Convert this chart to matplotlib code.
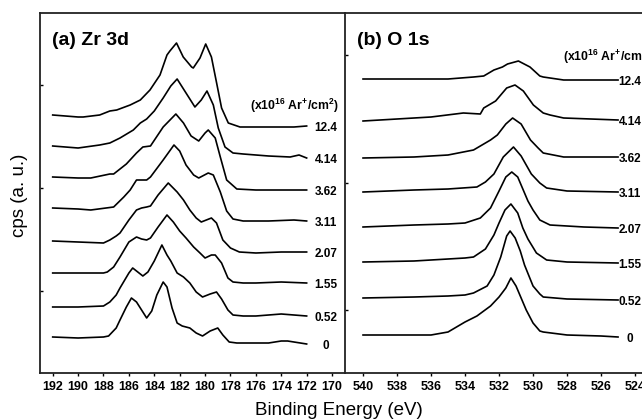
import matplotlib
matplotlib.use("Agg")
import matplotlib.pyplot as plt

# Ar+ ion dose for each spectrum, bottom to top (x10^16 Ar+/cm2)
doses = ["0", "0.52", "1.55", "2.07", "3.11", "3.62", "4.14", "12.4"]

# Zr 3d spectra: (binding energy in eV, cps in a.u. incl. stacking offset)
zr_0 = [(192, 36), (190, 35), (188, 36), (187.6, 37), (187, 45), (186.7, 53), (186.2, 66),
        (185.8, 75), (185.4, 71), (185.1, 65), (184.6, 55), (184.2, 62), (183.8, 78), (183.3, 91),
        (183.0, 86), (182.6, 65), (182.2, 50), (181.8, 47), (181.2, 45), (180.7, 40), (180.2, 37),
        (179.6, 42), (179.0, 45), (178.6, 38), (178.1, 31), (177.5, 30), (176, 30), (175, 30),
        (174, 32), (173.5, 32), (173, 31), (172, 29)]
zr_052 = [(192, 66), (190, 66), (188, 67), (187.5, 71), (187, 78), (186.7, 85), (186.0, 100),
          (185.7, 105), (185.3, 101), (184.9, 97), (184.5, 101), (184.0, 112), (183.4, 128),
          (183.0, 118), (182.7, 112), (182.2, 100), (181.7, 96), (181.2, 90), (180.7, 81),
          (180.2, 76), (179.6, 79), (179.1, 81), (178.7, 74), (178.2, 63), (177.8, 58), (177, 57),
          (176, 57), (174, 59), (173, 58), (172, 57)]
zr_155 = [(192, 100), (190, 100), (188, 100), (187.7, 101), (187.2, 106), (186.7, 116), (186.0, 131),
          (185.4, 136), (185.0, 134), (184.6, 133), (184.3, 135), (183.7, 146), (183.0, 158),
          (182.5, 151), (182.0, 142), (181.5, 135), (180.9, 126), (180.4, 120), (180.0, 115),
          (179.5, 118), (179.2, 118), (178.7, 110), (178.2, 95), (177.8, 91), (177, 90), (176, 90),
          (174, 91), (172, 90)]
zr_207 = [(192, 132), (190, 131), (188, 130), (187.5, 133), (187.0, 137), (186.7, 140), (186.0, 153),
          (185.4, 163), (185.0, 165), (184.6, 166), (184.3, 167), (183.7, 178), (182.9, 190),
          (182.2, 181), (181.7, 173), (181.2, 163), (180.7, 155), (180.3, 151), (179.9, 153),
          (179.5, 155), (179.1, 150), (178.6, 133), (178.0, 125), (177.3, 121), (176, 120),
          (174, 121), (172, 121)]
zr_311 = [(192, 165), (190, 164), (189, 163), (187.2, 166), (186.4, 176), (185.9, 183), (185.4, 193),
          (184.6, 193), (184.3, 196), (183.3, 213), (182.45, 228), (182.0, 222), (181.5, 208),
          (180.9, 198), (180.5, 195), (179.75, 200), (179.35, 198), (178.8, 181), (178.3, 162),
          (177.8, 154), (177, 152), (175, 152), (173, 153), (172, 152)]
zr_362 = [(192, 196), (190, 195), (189, 195), (187.5, 199), (187.2, 199), (186.2, 209), (185.4, 220),
          (184.9, 226), (184.3, 227), (183.3, 246), (182.3, 259), (181.7, 250), (181.1, 237),
          (180.5, 232), (180.0, 240), (179.75, 243), (179.2, 235), (178.8, 216), (178.3, 193),
          (177.5, 184), (176, 183), (174, 183), (172, 183)]
zr_414 = [(192, 227), (190, 225), (188.3, 228), (187.5, 230), (186.7, 235), (185.65, 243),
          (185.1, 250), (184.6, 254), (184.0, 262), (183.3, 275), (182.7, 287), (182.2, 294),
          (181.45, 279), (180.8, 266), (180.3, 273), (179.85, 282), (179.35, 268), (178.96, 245),
          (178.43, 226), (177.8, 220), (177, 219), (175, 217), (173.3, 216), (172.6, 218), (172, 215)]
zr_124 = [(192, 258), (190, 256), (189.6, 256), (188.3, 258), (187.5, 262), (186.96, 263),
          (185.9, 268), (185.1, 273), (184.34, 283), (183.55, 298), (183.0, 318), (182.77, 322),
          (182.25, 330), (181.72, 316), (181.06, 306), (180.93, 305), (180.4, 315), (179.95, 329),
          (179.5, 316), (179.09, 290), (178.7, 265), (178.17, 250), (177.25, 246), (175, 246),
          (173, 246), (172, 247)]

# O 1s spectra: (binding energy in eV, cps in a.u. incl. stacking offset)
o_0 = [(540, 38), (537, 38), (536, 38), (535, 41), (534.3, 48), (534, 51), (533.3, 57), (532.5, 67),
       (532.0, 76), (531.6, 85), (531.3, 95), (531.0, 87), (530.7, 75), (530.4, 63), (530.0, 50),
       (529.6, 42), (529.4, 41), (528, 38), (526, 37), (525, 36)]
o_052 = [(540, 75), (537, 76), (535, 77), (534, 78), (533.5, 80), (532.7, 87), (532.3, 98),
         (531.9, 116), (531.55, 137), (531.35, 142), (531.05, 135), (530.75, 122), (530.5, 108),
         (530.0, 87), (529.6, 79), (529.4, 76), (528, 74), (525, 73)]
o_155 = [(540, 111), (537, 112), (535, 114), (534, 115), (533.5, 116), (532.8, 124), (532.3, 138),
         (532.0, 150), (531.65, 163), (531.3, 169), (530.9, 160), (530.6, 145), (530.3, 134),
         (529.8, 120), (529.2, 113), (528, 111), (525, 110)]
o_207 = [(540, 146), (537, 148), (535, 149), (534, 150), (533.1, 155), (532.5, 165), (532.0, 182),
         (531.6, 196), (531.25, 201), (530.9, 196), (530.6, 184), (530.3, 172), (530.0, 163),
         (529.6, 153), (529.0, 148), (527, 146), (525, 145)]
o_311 = [(540, 181), (537, 183), (535, 184), (533.3, 186), (532.8, 191), (532.3, 199), (531.75, 216),
         (531.15, 226), (530.7, 217), (530.1, 199), (529.6, 190), (529.2, 185), (528, 182), (525, 181)]
o_362 = [(540, 215), (537, 216), (535, 218), (533.5, 223), (532.5, 233), (532.1, 238), (531.6, 249),
         (531.2, 255), (530.7, 249), (530.15, 233), (529.7, 225), (529.4, 220), (528.2, 216), (525, 216)]
o_414 = [(540, 252), (537, 255), (536, 256), (534.1, 260), (533.1, 259), (532.9, 265), (532.2, 272),
         (531.55, 285), (531.06, 288), (530.57, 282), (529.98, 268), (529.4, 260), (529.0, 258),
         (528.2, 255), (525, 253)]
o_124 = [(540, 294), (537, 294), (535, 294), (533.5, 296), (532.9, 297), (532.3, 303), (531.8, 306),
         (531.5, 309), (530.86, 312), (530.18, 306), (529.6, 297), (529.4, 296), (528.2, 293), (525, 293)]

zr_spectra = [zr_0, zr_052, zr_155, zr_207, zr_311, zr_362, zr_414, zr_124]
o_spectra = [o_0, o_052, o_155, o_207, o_311, o_362, o_414, o_124]

zr_xticks = list(range(192, 169, -2))
o_xticks = list(range(540, 523, -2))
dose_header = r"(x10$^{\mathbf{16}}$ Ar$^{\mathbf{+}}$/cm$^{\mathbf{2}}$)"

plt.rcParams["font.family"] = ["Liberation Sans", "DejaVu Sans"]
plt.rcParams["mathtext.fontset"] = "custom"
plt.rcParams["mathtext.rm"] = "Liberation Sans"
plt.rcParams["mathtext.bf"] = "Liberation Sans:bold"

W, H = 642, 419
fig = plt.figure(figsize=(W / 100, H / 100), dpi=100)
ax_zr = fig.add_axes([40 / W, 1 - 373 / H, 305 / W, 360 / H])
ax_o = fig.add_axes([345 / W, 1 - 373 / H, 297 / W, 360 / H])


def draw_panel(ax, spectra, xlim, xticks, yticks, title, label_x, header_x, header_y):
    for spec, dose in zip(spectra, doses):
        energy = [p[0] for p in spec]
        counts = [p[1] for p in spec]
        ax.plot(energy, counts, color="black", lw=1.2)
        ax.text(label_x, counts[-1] - 2, dose, ha="center", va="center",
                fontsize=8.5, fontweight="bold")

    ax.text(header_x, header_y, dose_header, ha="left", va="center",
            fontsize=8.8, fontweight="bold")
    ax.text(0.04, 0.925, title, transform=ax.transAxes, ha="left", va="center",
            fontsize=14, fontweight="bold")

    ax.set_xlim(*xlim)
    ax.set_ylim(0, 360)
    ax.set_xticks(xticks)
    ax.set_xticklabels([str(t) for t in xticks], fontweight="bold", fontsize=9)
    ax.set_yticks(yticks)
    ax.set_yticklabels([])
    ax.tick_params(axis="x", direction="out", length=2.5, width=1, pad=3)
    ax.tick_params(axis="y", direction="in", length=2.5, width=1)
    for spine in ax.spines.values():
        spine.set_linewidth(1.3)
        spine.set_color("#222222")
    ax.spines["right"].set_visible(False)


draw_panel(ax_zr, zr_spectra, (193.0, 168.98), zr_xticks, [82, 185, 288],
           "(a) Zr 3d", 170.48, 176.46, 267)
draw_panel(ax_o, o_spectra, (541.06, 523.59), o_xticks, [63, 190, 318],
           "(b) O 1s", 524.3, 528.24, 316)

fig.text(339 / W, 1 - 410 / H, "Binding Energy (eV)", ha="center", va="center", fontsize=13.5)
fig.text(20 / W, 1 - 195 / H, "cps (a. u.)", ha="center", va="center", rotation=90, fontsize=13.5)

fig.savefig("out.png", dpi=100)
